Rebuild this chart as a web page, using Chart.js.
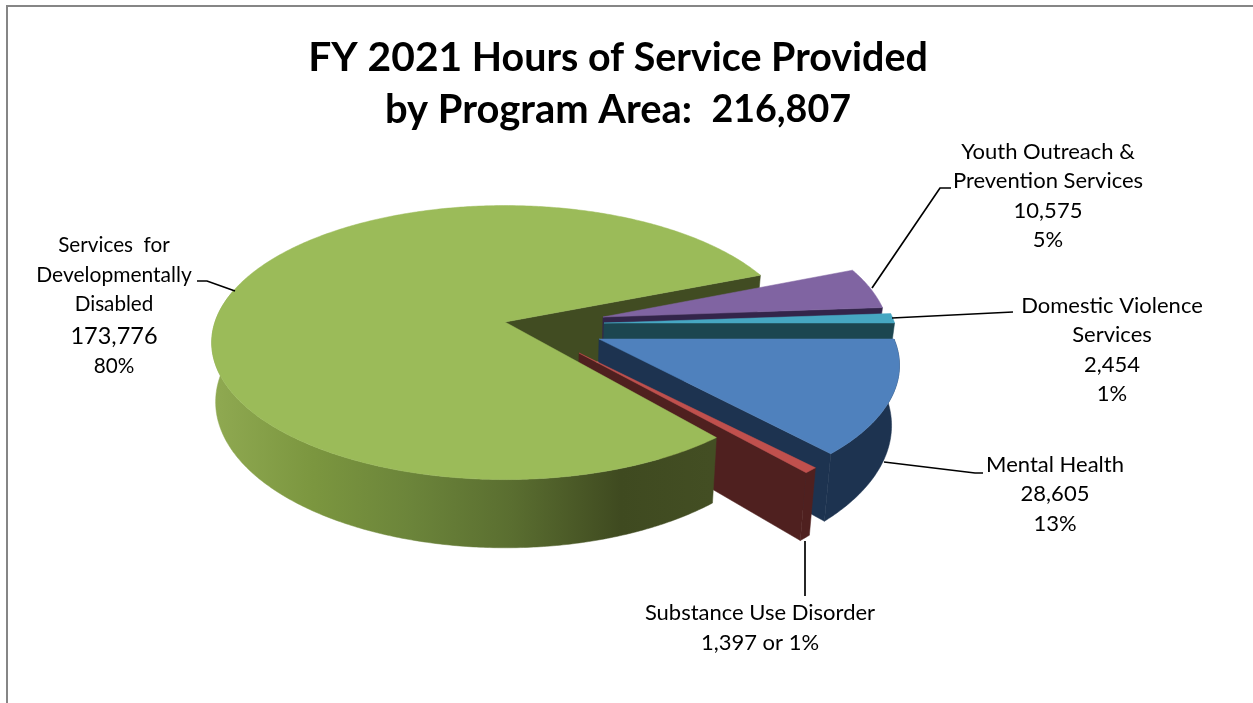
<!DOCTYPE html>
<html><head><meta charset="utf-8">
<style>html,body{margin:0;padding:0;background:#fff;overflow:hidden}canvas{display:block}</style>
<script src="https://cdn.jsdelivr.net/npm/chart.js@4"></script>
</head><body>
<canvas id="c" width="1253" height="703"></canvas>
<script>
// ---- data ----
const categories = ['Services for Developmentally Disabled','Youth Outreach & Prevention Services','Domestic Violence Services','Mental Health','Substance Use Disorder'];
const hours = [173776, 10575, 2454, 28605, 1397];
const percents = ['80%','5%','1%','13%','1%'];
const titleLine1 = [['FY 2021',40.8],[' Hours of Service Provided',39.4]];
const titleLine2 = [['by Program Area:  ',39.9],['216,807',37.6]];

// ---- style ----
const topColors = ['#9bbb59','#8064a2','#46a7c2','#4f81bd','#c0504d'];
const wallColors = ['#414c22','#33254a','#1c4650','#1d3350','#4f201f'];
const rimStops = [
 [[0,'#8fa951'],[0.2,'#7b963f'],[0.4,'#6b843a'],[0.6,'#5a6e30'],[0.82,'#3f4a20'],[1,'#434e23']],
 [[0,'#33254a'],[1,'#33254a']],[[0,'#1c4650'],[1,'#1c4650']],[[0,'#1d3350'],[1,'#1d3350']],[[0,'#4f201f'],[1,'#4f201f']]];
// shift x, shift y, radius factor, perspective
const explode = [[-85,-13,0.983,0.15],[13,-18,0.96,0.15],[14,-12,0.985,0.15],[9,4,1,0.19],[-11,18,1.02,0.19]];
const SQUASH=0.454, DEPTH=58, TAPER_L=0.012, TAPER_R=0.022, VANISH=540;
const FONT='Lato, Carlito, Calibri, sans-serif';
const LBL=22, LBLG=20.7;

const labelBlocks = [
 {i:0,x:114,size:LBLG,lines:[['Services  for',245],['Developmentally',275,21],['Disabled',304],[hours[0],336,23.5],[percents[0],366]]},
 {i:1,x:1048,size:LBL,lines:[['Youth Outreach &',152],['Prevention Services',181],[hours[1],211],[percents[1],240]]},
 {i:2,x:1112,size:LBL,lines:[['Domestic Violence',306],['Services',335],[hours[2],365],[percents[2],394]]},
 {i:3,x:1055,size:LBL,lines:[['Mental Health',465],[hours[3],494],[percents[3],524]]},
 {i:4,x:760,size:LBL,lines:[['Substance Use Disorder',613],[hours[4].toLocaleString('en-US')+' or '+percents[4],643]]}
];
const leaders = [[[197,281],[207,281],[235,291]],[[872,288],[940,188],[951,188]],[[892,318],[1013,312]],[[884,462],[975,473],[983,473]],[[805,541],[805,596]]];

function proj(el,idx,th,r){
  const [dx,dy,sc,k]=explode[idx];
  const R=el.outerRadius*sc;
  const X=Math.cos(th)*r,Y=Math.sin(th)*r,w=1-k*Y;
  return {x:el.x+dx+R*X/w,y:el.y+dy+el.outerRadius*SQUASH*Y/w,w};
}
const low=p=>({x:p.x+(VANISH-p.x)*(p.x<VANISH?TAPER_L:TAPER_R),y:p.y+DEPTH/p.w});
function poly(ctx,pts,fill){ctx.beginPath();pts.forEach((p,k)=>k?ctx.lineTo(p.x,p.y):ctx.moveTo(p.x,p.y));ctx.closePath();ctx.fillStyle=fill;ctx.fill();ctx.strokeStyle=fill;ctx.lineWidth=0.5;ctx.stroke();}
function arcPts(el,idx,a,b){const n=Math.max(2,Math.ceil((b-a)/0.01)),o=[];for(let k=0;k<=n;k++)o.push(proj(el,idx,a+(b-a)*k/n,1));return o;}

function paintWall(ctx,el,idx){
  const b=el.endAngle,apex=proj(el,idx,b,0),e=proj(el,idx,b,1);
  poly(ctx,[apex,e,low(e),low(apex)],wallColors[idx]);
}
function paintBody(ctx,el,idx){
  const a=el.startAngle,b=el.endAngle,apex=proj(el,idx,b,0);
  const off=a>=2*Math.PI-1e-3?2*Math.PI:0;
  const ra=Math.max(a-off,0)+off,rb=Math.min(b-off,Math.PI+0.25)+off;
  if(rb>ra){
    const top=arcPts(el,idx,ra,rb),g=ctx.createLinearGradient(215,0,710,0);
    rimStops[idx].forEach(s=>g.addColorStop(s[0],s[1]));
    poly(ctx,top.concat(top.map(low).reverse()),g);
  }
  poly(ctx,[apex].concat(arcPts(el,idx,a,b)),el.options.backgroundColor);
}
function runs(ctx,parts,cx,y){
  const font=s=>'bold '+s+'px '+FONT;
  let tot=0;parts.forEach(p=>{ctx.font=font(p[1]);tot+=ctx.measureText(p[0]).width;});
  let x=cx-tot/2;ctx.textAlign='left';ctx.textBaseline='middle';ctx.fillStyle='#000';
  parts.forEach(p=>{ctx.font=font(p[1]);ctx.fillText(p[0],x,y);x+=ctx.measureText(p[0]).width;});
}
const pie3d={id:'pie3d',
  beforeDatasetDraw(chart,args){
    const ctx=chart.ctx,els=chart.getDatasetMeta(args.index).data;
    ctx.save();
    paintWall(ctx,els[0],0);
    for(let i=1;i<els.length;i++){paintWall(ctx,els[i],i);paintBody(ctx,els[i],i);}
    paintBody(ctx,els[0],0);
    ctx.restore();
    return false;
  },
  afterDraw(chart){
    const ctx=chart.ctx;ctx.save();
    ctx.fillStyle='#868686';ctx.fillRect(6,5,1247,2);ctx.fillRect(6,5,2,698);
    runs(ctx,titleLine1,618,58);runs(ctx,titleLine2,618,110);
    ctx.strokeStyle='#000';ctx.lineWidth=1.7;
    leaders.forEach(l=>{ctx.beginPath();l.forEach((p,k)=>k?ctx.lineTo(p[0],p[1]):ctx.moveTo(p[0],p[1]));ctx.stroke();});
    ctx.textAlign='center';ctx.textBaseline='middle';ctx.fillStyle='#000';
    labelBlocks.forEach(b=>b.lines.forEach(l=>{
      ctx.font=(l[2]||b.size)+'px '+FONT;
      const t=typeof l[0]==='number'?l[0].toLocaleString('en-US'):l[0];
      ctx.fillText(t,b.x,l[1]);
    }));
    ctx.restore();
  }
};
new Chart(document.getElementById('c'),{
  type:'pie',
  data:{labels:categories,datasets:[{data:hours,backgroundColor:topColors,borderWidth:0}]},
  options:{responsive:false,animation:false,rotation:139.81,radius:295,
    layout:{padding:{right:73,bottom:33}},
    events:[],
    plugins:{legend:{display:false},tooltip:{enabled:false},title:{display:false}}},
  plugins:[pie3d]
});
</script>
</body></html>
